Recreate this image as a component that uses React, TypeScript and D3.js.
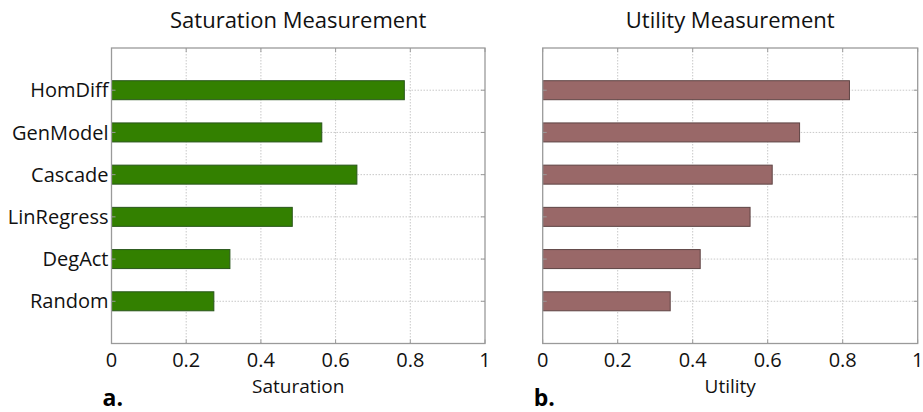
import React, { useEffect, useRef } from "react";
import * as d3 from "d3";

const categories = ["HomDiff", "GenModel", "Cascade", "LinRegress", "DegAct", "Random"];
const saturation = [0.784, 0.563, 0.657, 0.484, 0.317, 0.274];
const utility = [0.818, 0.685, 0.612, 0.553, 0.42, 0.34];
const xTicks = [0, 0.2, 0.4, 0.6, 0.8, 1];

const font = "'Open Sans', sans-serif";

const panels = [
  { title: "Saturation Measurement", xLabel: "Saturation", tag: "a.", values: saturation, fill: "#338000", stroke: "#28551a", left: 111.5, right: 485, labels: true },
  { title: "Utility Measurement", xLabel: "Utility", tag: "b.", values: utility, fill: "#996868", stroke: "#5e4444", left: 542.7, right: 917.7, labels: false },
];

const App: React.FC = () => {
  const ref = useRef<SVGSVGElement>(null);

  useEffect(() => {
    const svg = d3.select(ref.current);
    svg.selectAll("*").remove();
    const top = 48;
    const bottom = 343.5;

    panels.forEach((p) => {
      const x = d3.scaleLinear().domain([0, 1]).range([p.left, p.right]);
      const y = d3.scaleLinear().domain([0, categories.length + 1]).range([top, bottom]);
      const barH = 19;
      const g = svg.append("g");

      // vertical grid
      g.selectAll(".vg")
        .data(xTicks.slice(1, -1))
        .enter()
        .append("line")
        .attr("x1", (d) => x(d))
        .attr("x2", (d) => x(d))
        .attr("y1", top)
        .attr("y2", bottom)
        .attr("stroke", "#c8c8c8")
        .attr("stroke-width", 1)
        .attr("stroke-dasharray", "1.5,1.5");

      // horizontal grid
      g.selectAll(".hg")
        .data(categories)
        .enter()
        .append("line")
        .attr("x1", p.left)
        .attr("x2", p.right)
        .attr("y1", (_, i) => y(i + 1))
        .attr("y2", (_, i) => y(i + 1))
        .attr("stroke", "#c8c8c8")
        .attr("stroke-width", 1)
        .attr("stroke-dasharray", "1.5,1.5");

      // bars
      g.selectAll(".bar")
        .data(p.values)
        .enter()
        .append("rect")
        .attr("x", x(0))
        .attr("y", (_, i) => y(i + 1) - barH / 2)
        .attr("width", (d) => x(d) - x(0))
        .attr("height", barH)
        .attr("fill", p.fill)
        .attr("stroke", p.stroke)
        .attr("stroke-width", 1);

      // box
      g.append("rect")
        .attr("x", p.left)
        .attr("y", top)
        .attr("width", p.right - p.left)
        .attr("height", bottom - top)
        .attr("fill", "none")
        .attr("stroke", "#9a9a9a")
        .attr("stroke-width", 1.3);

      // ticks on top / bottom
      xTicks.forEach((t) => {
        g.append("line").attr("x1", x(t)).attr("x2", x(t)).attr("y1", top).attr("y2", top + 4).attr("stroke", "#9a9a9a");
        g.append("line").attr("x1", x(t)).attr("x2", x(t)).attr("y1", bottom).attr("y2", bottom - 4).attr("stroke", "#9a9a9a");
      });
      categories.forEach((_, i) => {
        g.append("line").attr("x1", p.right).attr("x2", p.right - 4).attr("y1", y(i + 1)).attr("y2", y(i + 1)).attr("stroke", "#9a9a9a");
        g.append("line").attr("x1", p.left).attr("x2", p.left + 4).attr("y1", y(i + 1)).attr("y2", y(i + 1)).attr("stroke", "#9a9a9a");
      });

      // tick labels
      g.selectAll(".xt")
        .data(xTicks)
        .enter()
        .append("text")
        .attr("x", (d) => x(d))
        .attr("y", 367)
        .attr("text-anchor", "middle")
        .attr("font-family", font)
        .attr("font-size", 20)
        .attr("fill", "#111")
        .text((d) => String(d));

      if (p.labels) {
        g.selectAll(".yl")
          .data(categories)
          .enter()
          .append("text")
          .attr("x", p.left - 3)
          .attr("y", (_, i) => y(i + 1))
          .attr("dy", "0.36em")
          .attr("text-anchor", "end")
          .attr("font-family", font)
          .attr("font-size", 20)
          .attr("fill", "#111")
          .text((d) => d);
      }

      g.append("text")
        .attr("x", (p.left + p.right) / 2)
        .attr("y", 28)
        .attr("text-anchor", "middle")
        .attr("font-family", font)
        .attr("font-size", 22)
        .attr("fill", "#111")
        .text(p.title);

      g.append("text")
        .attr("x", (p.left + p.right) / 2)
        .attr("y", 393)
        .attr("text-anchor", "middle")
        .attr("font-family", font)
        .attr("font-size", 19)
        .attr("fill", "#111")
        .text(p.xLabel);

      g.append("text")
        .attr("x", p.left - 9)
        .attr("y", 406)
        .attr("font-family", font)
        .attr("font-size", 23)
        .attr("font-weight", "bold")
        .attr("fill", "#000")
        .text(p.tag);
    });
  }, []);

  return (
    <svg
      ref={ref}
      width={923}
      height={412}
      style={{ position: "absolute", left: 0, top: 0, background: "#fff" }}
    />
  );
};

export default App;
